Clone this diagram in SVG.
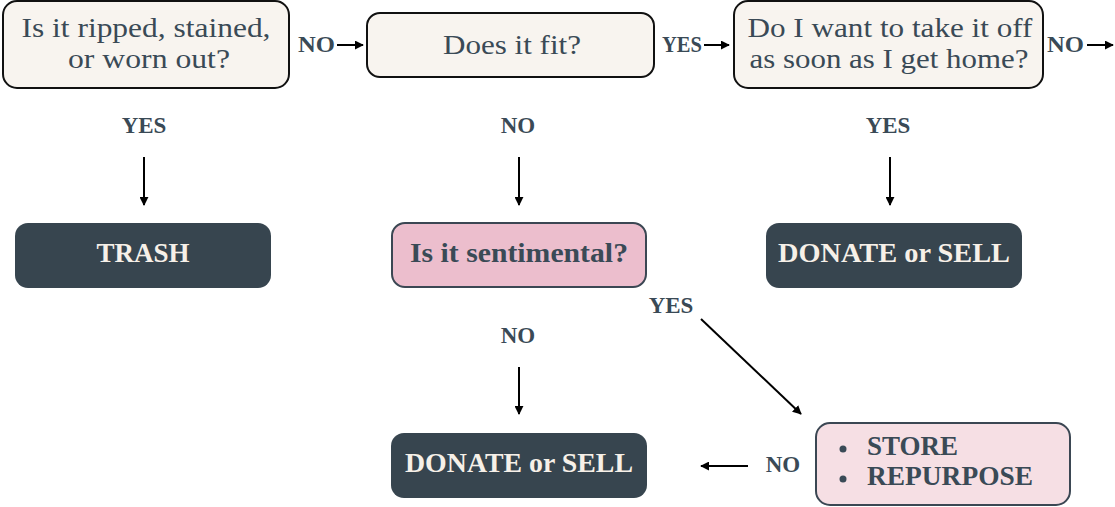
<svg xmlns="http://www.w3.org/2000/svg" width="1115" height="507" viewBox="0 0 1115 507">
<defs>
<marker id="ah" viewBox="0 0 10 10" refX="9" refY="5" markerWidth="9" markerHeight="9" markerUnits="userSpaceOnUse" orient="auto">
<path d="M0,0 L10,5 L0,10 z" fill="#000"/>
</marker>
<style>
.q{fill:#f8f4ef;stroke:#111;stroke-width:2}
.d{fill:#37454f}
.p{fill:#ecbecd;stroke:#3b4753;stroke-width:2}
.lp{fill:#f6dfe4;stroke:#3b4753;stroke-width:2}
.qt{font-family:"Liberation Serif",serif;font-size:27px;fill:#3a4a56;text-anchor:middle}
.dt{font-family:"Liberation Serif",serif;font-size:27px;font-weight:bold;fill:#f6f0e8;text-anchor:middle}
.pt{font-family:"Liberation Serif",serif;font-size:27px;font-weight:bold;fill:#3a4a56}
.lb{font-family:"Liberation Serif",serif;font-size:23px;font-weight:bold;fill:#3a4a56}
.c{stroke:#000;stroke-width:2;fill:none;marker-end:url(#ah)}
</style>
</defs>
<rect width="1115" height="507" fill="#fff"/>

<g id="n1">
<rect class="q" x="3" y="1" width="286" height="87" rx="14"/>
<text class="qt" x="146" y="37" textLength="249" lengthAdjust="spacingAndGlyphs">Is it ripped, stained,</text>
<text class="qt" x="149" y="68" textLength="162" lengthAdjust="spacingAndGlyphs">or worn out?</text>
</g>
<g id="n2">
<rect class="q" x="367" y="13" width="287" height="64" rx="13"/>
<text class="qt" x="512" y="54" textLength="138" lengthAdjust="spacingAndGlyphs">Does it fit?</text>
</g>
<g id="n3">
<rect class="q" x="734" y="1" width="309" height="87" rx="14"/>
<text class="qt" x="890" y="37" textLength="285" lengthAdjust="spacingAndGlyphs">Do I want to take it off</text>
<text class="qt" x="889" y="68" textLength="279" lengthAdjust="spacingAndGlyphs">as soon as I get home?</text>
</g>
<g id="n4">
<rect class="d" x="15" y="223" width="256" height="65" rx="13"/>
<text class="dt" x="143" y="262">TRASH</text>
</g>
<g id="n5">
<rect class="p" x="392" y="223" width="254" height="64" rx="13"/>
<text class="pt" x="519" y="262" text-anchor="middle" textLength="218" lengthAdjust="spacingAndGlyphs">Is it sentimental?</text>
</g>
<g id="n6">
<rect class="d" x="766" y="223" width="256" height="65" rx="13"/>
<text class="dt" x="894" y="262" textLength="232" lengthAdjust="spacingAndGlyphs">DONATE or SELL</text>
</g>
<g id="n7">
<rect class="d" x="391" y="433" width="256" height="65" rx="13"/>
<text class="dt" x="519" y="472" textLength="228" lengthAdjust="spacingAndGlyphs">DONATE or SELL</text>
</g>
<g id="n8">
<rect class="lp" x="816" y="423" width="254" height="82" rx="14"/>
<circle cx="843" cy="449" r="3.5" fill="#3a4a56"/>
<circle cx="843" cy="479" r="3.5" fill="#3a4a56"/>
<text class="pt" x="867" y="455">STORE</text>
<text class="pt" x="867" y="485" textLength="166" lengthAdjust="spacingAndGlyphs">REPURPOSE</text>
</g>

<g id="connectors">
<line class="c" x1="337" y1="45" x2="363" y2="45"/>
<line class="c" x1="704" y1="45" x2="729" y2="45"/>
<line class="c" x1="1087" y1="45" x2="1113" y2="45"/>
<line class="c" x1="144" y1="157" x2="144" y2="205"/>
<line class="c" x1="519" y1="157" x2="519" y2="205"/>
<line class="c" x1="890" y1="157" x2="890" y2="205"/>
<line class="c" x1="701" y1="319" x2="801" y2="414"/>
<line class="c" x1="519" y1="367" x2="519" y2="414"/>
<line class="c" x1="748" y1="466" x2="701" y2="466"/>
<g id="labels">
<text class="lb" x="298" y="52" textLength="37" lengthAdjust="spacingAndGlyphs">NO</text>
<text class="lb" x="662" y="52" textLength="40" lengthAdjust="spacingAndGlyphs">YES</text>
<text class="lb" x="1047" y="52" textLength="37" lengthAdjust="spacingAndGlyphs">NO</text>
<text class="lb" x="144" y="133" text-anchor="middle">YES</text>
<text class="lb" x="518" y="133" text-anchor="middle">NO</text>
<text class="lb" x="888" y="133" text-anchor="middle">YES</text>
<text class="lb" x="671" y="313" text-anchor="middle">YES</text>
<text class="lb" x="518" y="343" text-anchor="middle">NO</text>
<text class="lb" x="783" y="472" text-anchor="middle">NO</text>
</g>
</g>
</svg>
